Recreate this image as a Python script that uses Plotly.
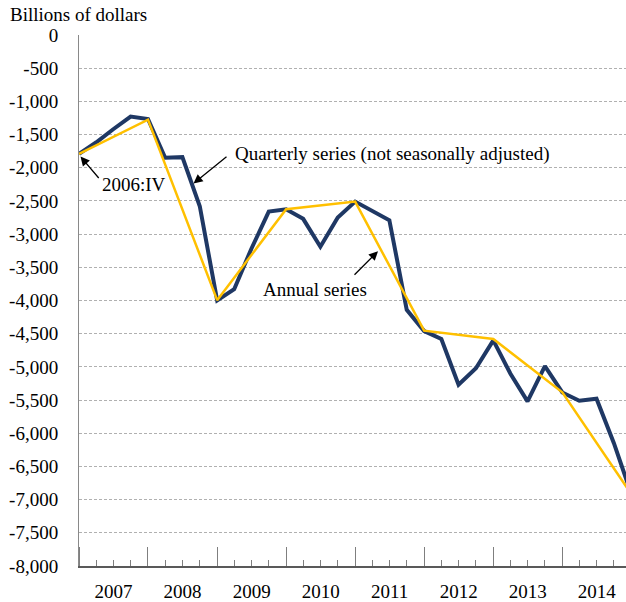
import plotly.graph_objects as go
import pandas as pd

# ---- data ----
quarter_labels = ["2006:IV"] + [f"{y}:{q}" for y in range(2007, 2015) for q in ["I", "II", "III", "IV"]]
quarterly_values = [-1790,
                    -1620, -1420, -1230, -1265,
                    -1850, -1840, -2580, -4000,
                    -3830, -3220, -2660, -2625,
                    -2770, -3190, -2750, -2510,
                    -2650, -2790, -4140, -4460,
                    -4580, -5270, -5020, -4600,
                    -5100, -5520, -4990, -5385,
                    -5510, -5480, -6150, -6915]
annual_years = [2006, 2007, 2008, 2009, 2010, 2011, 2012, 2013, 2014]
annual_values = [-1790, -1275, -3995, -2625, -2510, -4455, -4580, -5383, -6915]
y_tick_values = list(range(0, -8001, -500))
y_tick_labels = [f"{v:,}" for v in y_tick_values]

roman = {"I": 1, "II": 2, "III": 3, "IV": 4}


def quarter_end(label):
    y, q = label.split(":")
    p = pd.Period(year=int(y), quarter=roman[q], freq="Q")
    return (p.end_time + pd.Timedelta(1, "ns")).normalize()


q_dates = [quarter_end(l) for l in quarter_labels]
a_dates = [pd.Timestamp(year=y + 1, month=1, day=1) for y in annual_years]

FONT = "Liberation Serif"
FS = 19
NAVY = "#1F3864"
GOLD = "#FFC000"

fig = go.Figure()
fig.add_trace(go.Scatter(x=q_dates, y=quarterly_values, mode="lines",
                         line=dict(color=NAVY, width=4), name="Quarterly",
                         hoverinfo="skip"))
fig.add_trace(go.Scatter(x=a_dates, y=annual_values, mode="lines",
                         line=dict(color=GOLD, width=2.5), name="Annual",
                         hoverinfo="skip"))

fig.update_layout(
    width=626, height=602,
    margin=dict(l=79, r=0, t=35, b=34),
    paper_bgcolor="white", plot_bgcolor="white",
    showlegend=False,
    font=dict(family=FONT, size=FS, color="black"),
    xaxis=dict(
        type="date",
        range=["2007-01-01", "2014-12-04"],
        tick0="2007-01-01", dtick="M12",
        tickformat="%Y", ticklabelmode="period",
        ticks="inside", ticklen=19, tickcolor="#7f7f7f", tickwidth=1,
        minor=dict(dtick="M3", ticks="inside", ticklen=6,
                   tickcolor="#7f7f7f", tickwidth=1, showgrid=False),
        showgrid=False, zeroline=False,
        showline=True, linecolor="#595959", linewidth=1.5,
        tickfont=dict(family=FONT, size=FS, color="black"),
        ticklabelstandoff=7,
    ),
    yaxis=dict(
        range=[-8000, 0],
        tickmode="array", tickvals=y_tick_values, ticktext=y_tick_labels,
        ticks="", showgrid=False, zeroline=False,
        showline=True, linecolor="#898989", linewidth=1,
        tickfont=dict(family=FONT, size=FS, color="black"),
        ticklabelstandoff=16,
        minor=dict(tickmode="array", tickvals=y_tick_values[1:-1],
                   showgrid=True, gridcolor="#b0b0b0", gridwidth=1,
                   griddash="3px,2px", ticks=""),
    ),
)

W0, W1 = 79, 626
H0, H1 = 35, 568


def px(xp):
    return (xp - W0) / (W1 - W0)


def py(yp):
    return (H1 - yp) / (H1 - H0)


texts = [
    ("Billions of dollars", 8, 14),
    ("2006:IV", 100, 185.5),
    ("Quarterly series (not seasonally adjusted)", 233, 154),
    ("Annual series", 261, 290),
]
for t, x0, y0 in texts:
    fig.add_annotation(text=t, xref="paper", yref="paper", x=px(x0), y=py(y0),
                       xanchor="left", yanchor="middle", showarrow=False,
                       font=dict(family=FONT, size=FS, color="black"))

arrows = [
    ((80.5, 157), (100, 180)),
    ((193.5, 184), (228, 156)),
    ((378, 252), (353, 277)),
]
for (tx, ty), (sx, sy) in arrows:
    fig.add_annotation(text="", xref="paper", yref="paper", x=px(tx), y=py(ty),
                       ax=sx - tx, ay=sy - ty, showarrow=True,
                       arrowhead=2, arrowsize=1.4, arrowwidth=1.3,
                       arrowcolor="black", standoff=0)

fig.write_html("out.html",
               config={"displayModeBar": False},
               post_script="document.body.style.margin='0';document.body.style.overflow='hidden';")
